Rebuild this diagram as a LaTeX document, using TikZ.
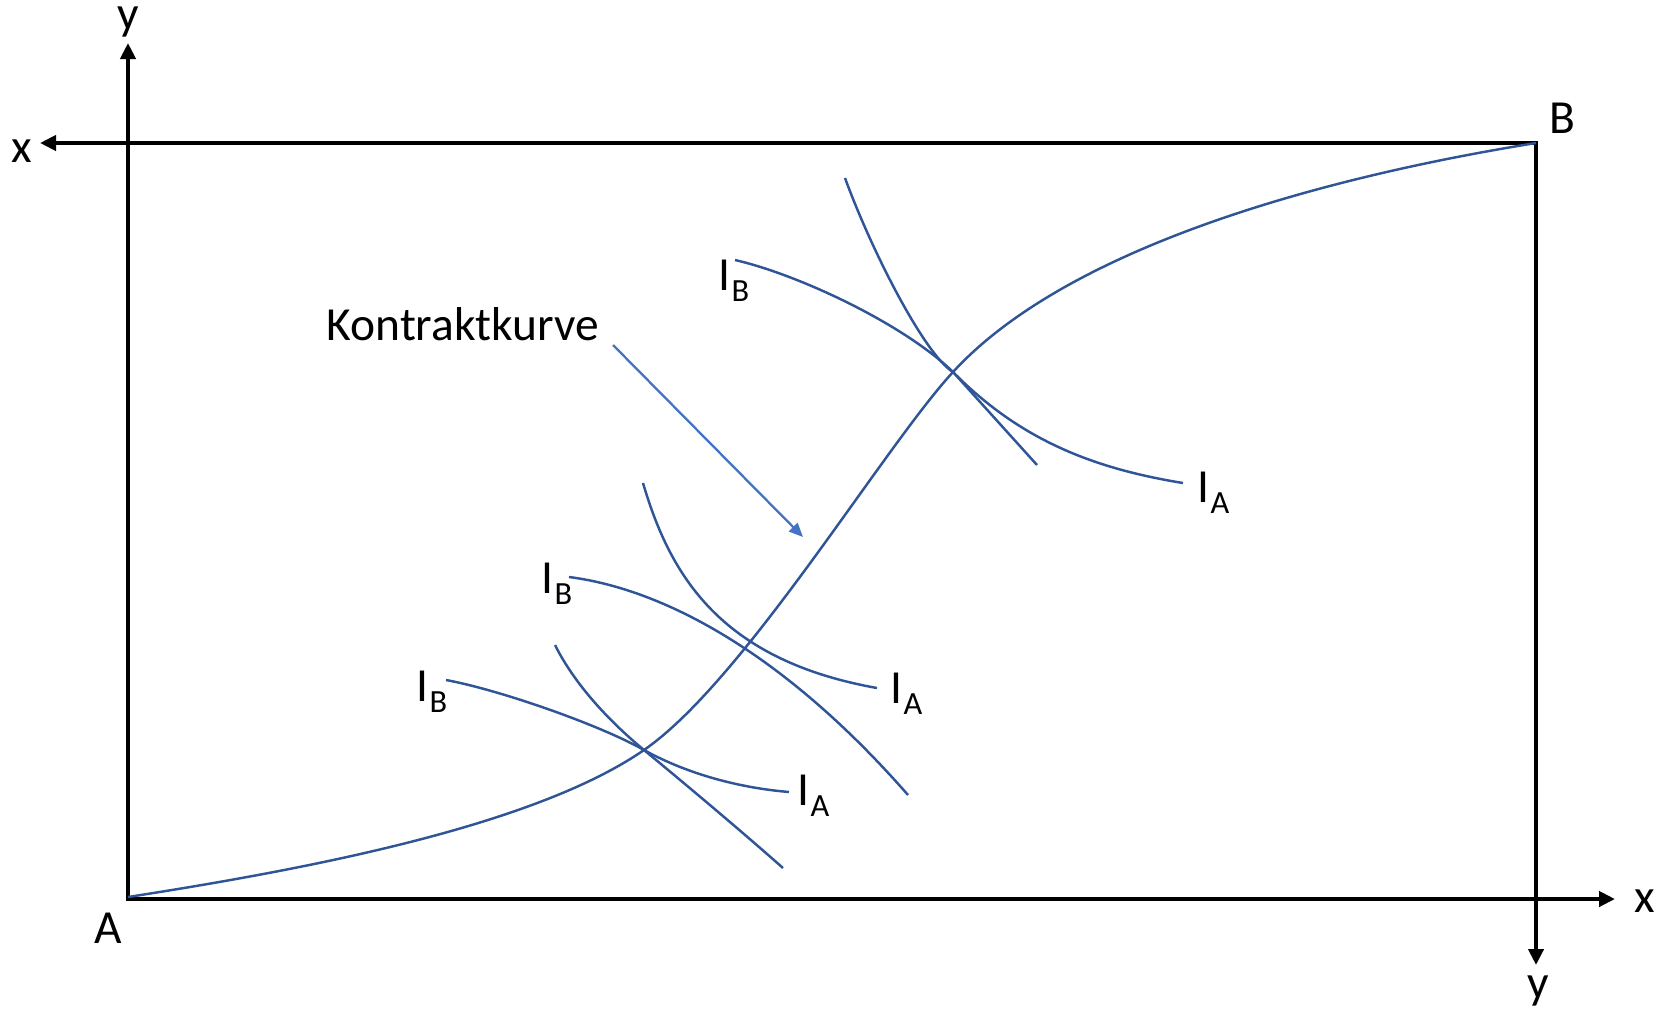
\documentclass[tikz,border=0pt]{standalone}
\usepackage{fontspec}
\setmainfont{Carlito}
\usetikzlibrary{arrows.meta}
\definecolor{curveblue}{HTML}{2F5597}
\definecolor{arrowblue}{HTML}{4472C4}
\newcommand{\IndSub}[1]{I\kern0.3pt\raisebox{-3.4pt}{\fontsize{9.2}{9.2}\selectfont #1}}
\begin{document}
\begin{tikzpicture}[x=0.01cm,y=-0.01cm,
  axis/.style={line width=1.35pt, black, line cap=rect},
  axisarrow/.style={axis, -{Triangle[length=0.16cm,width=0.15cm]}},
  icurve/.style={curveblue, line width=0.7pt},
  lbl/.style={inner sep=0pt, font=\fontsize{13.5}{16}\selectfont},
]
\useasboundingbox (0,0) rectangle (1661,1009);

% frame corners and axis tips
\coordinate (A) at (128,899);
\coordinate (B) at (1536,143);
\coordinate (xL) at (40,143);
\coordinate (yT) at (128,43);
\coordinate (xR) at (1615,899);
\coordinate (yB) at (1536,965);

\draw[axisarrow] (B) -- (xL);
\draw[axisarrow] (A) -- (yT);
\draw[axisarrow] (A) -- (xR);
\draw[axisarrow] (B) -- (yB);

% tangency points
\coordinate (P1) at (644,750);
\coordinate (P2) at (754,647);
\coordinate (P3) at (953,372);
\coordinate (cA) at (128,897);
\coordinate (cB) at (1536,143);

% contract curve
\draw[icurve] (cA) .. controls (308,869) and (534,826) .. (P1)
  .. controls (744,681) and (883,448) .. (P3)
  .. controls (1063,252) and (1306,180) .. (cB);

% upper pair
\coordinate (uIAs) at (845,178);
\coordinate (uIAe) at (1037,465);
\coordinate (uIBs) at (735,260);
\coordinate (uIBe) at (1183,483);
\draw[icurve] (uIAs) .. controls (872,252) and (925,355) .. (P3) -- (uIAe);
\draw[icurve] (uIBs) .. controls (800,275) and (905,325) .. (P3)
  .. controls (1018,438) and (1090,468) .. (uIBe);

% middle pair
\coordinate (mIBs) at (569,577);
\coordinate (mIBe) at (908,795);
\coordinate (mIAs) at (643,483);
\coordinate (mIAe) at (877,688);
\draw[icurve] (mIBs) .. controls (670,590) and (790,660) .. (mIBe);
\draw[icurve] (mIAs) .. controls (670,575) and (720,660) .. (mIAe);

% lower pair
\coordinate (lIBs) at (446,680);
\coordinate (lIBe) at (789,792);
\coordinate (lIAs) at (555,645);
\coordinate (lIAe) at (783,868);
\draw[icurve] (lIBs) .. controls (500,690) and (600,725) .. (P1)
  .. controls (680,770) and (730,787) .. (lIBe);
\draw[icurve] (lIAs) .. controls (575,685) and (610,722) .. (P1)
  .. controls (690,788) and (740,830) .. (lIAe);

% labels
\node[lbl, anchor=base] (ytop) at (128,29) {y};
\node[lbl, anchor=base] (xleft) at (22,162) {x};
\node[lbl, anchor=base] (Blbl) at (1562,133) {B};
\node[lbl, anchor=base] (Albl) at (108,943) {A};
\node[lbl, anchor=base] (xright) at (1645,912) {x};
\node[lbl, anchor=base] (ybot) at (1538,998) {y};
\node[lbl, anchor=base west] (kk) at (326,340) {Kontraktkurve};

\node[lbl, anchor=base west] (IBu) at (718,290) {\IndSub{B}};
\node[lbl, anchor=base west] (IAu) at (1197,502) {\IndSub{A}};
\node[lbl, anchor=base west] (IBm) at (541,593) {\IndSub{B}};
\node[lbl, anchor=base west] (IAm) at (890,703) {\IndSub{A}};
\node[lbl, anchor=base west] (IBl) at (416,701) {\IndSub{B}};
\node[lbl, anchor=base west] (IAl) at (797,805) {\IndSub{A}};

% pointer arrow
\coordinate (arrS) at (613,345);
\coordinate (arrE) at (803,537);
\draw[arrowblue, line width=0.65pt, -{Triangle[length=0.14cm,width=0.12cm]}] (arrS) -- (arrE);
\end{tikzpicture}
\end{document}
